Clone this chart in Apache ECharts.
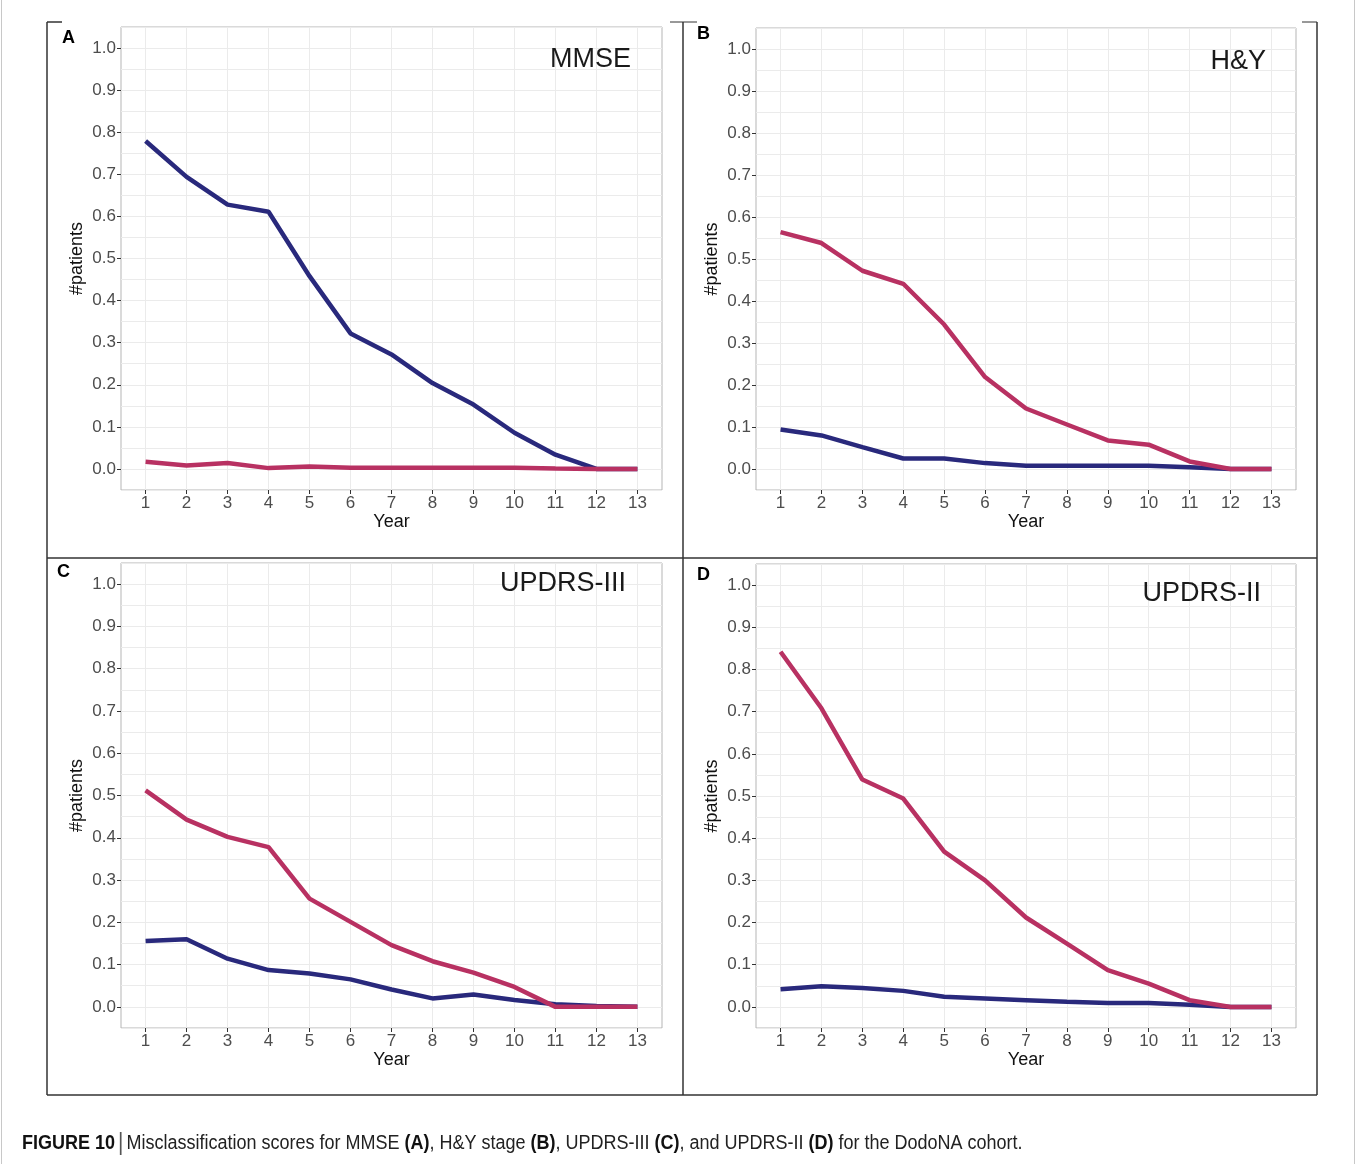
<!DOCTYPE html>
<html>
<head>
<meta charset="utf-8">
<script src="https://cdn.jsdelivr.net/npm/echarts@6/dist/echarts.min.js"></script>
<style>
  html, body { margin: 0; padding: 0; background: #fff; }
  #chart { width: 1357px; height: 1164px; }
</style>
</head>
<body>
<div id="chart"></div>
<script>
// ---- Data ----
const years = [1, 2, 3, 4, 5, 6, 7, 8, 9, 10, 11, 12, 13];
const yTicks = [0, 0.1, 0.2, 0.3, 0.4, 0.5, 0.6, 0.7, 0.8, 0.9, 1.0];

const panelTitles = ['MMSE', 'H&Y', 'UPDRS-III', 'UPDRS-II'];
const panelLetters = ['A', 'B', 'C', 'D'];

const mmseBlue = [0.779, 0.694, 0.628, 0.611, 0.458, 0.322, 0.272, 0.204, 0.153, 0.086, 0.034, 0.0, 0.0];
const mmseRed = [0.017, 0.008, 0.014, 0.002, 0.006, 0.003, 0.003, 0.003, 0.003, 0.003, 0.001, 0.0, 0.0];

const hyBlue = [0.094, 0.080, 0.052, 0.025, 0.025, 0.014, 0.008, 0.008, 0.008, 0.008, 0.004, 0.0, 0.0];
const hyRed = [0.564, 0.538, 0.472, 0.441, 0.344, 0.219, 0.144, 0.106, 0.068, 0.058, 0.018, 0.0, 0.0];

const updrs3Blue = [0.156, 0.160, 0.114, 0.087, 0.079, 0.065, 0.041, 0.020, 0.029, 0.016, 0.006, 0.002, 0.0];
const updrs3Red = [0.512, 0.443, 0.402, 0.378, 0.256, 0.201, 0.146, 0.108, 0.081, 0.047, 0.0, 0.0, 0.0];

const updrs2Blue = [0.042, 0.049, 0.045, 0.038, 0.024, 0.020, 0.016, 0.012, 0.009, 0.009, 0.005, 0.0, 0.0];
const updrs2Red = [0.842, 0.708, 0.539, 0.494, 0.368, 0.300, 0.212, 0.150, 0.087, 0.055, 0.016, 0.0, 0.0];

const blueSeries = [mmseBlue, hyBlue, updrs3Blue, updrs2Blue];
const redSeries = [mmseRed, hyRed, updrs3Red, updrs2Red];

const captionLabel = 'FIGURE 10';

// ---- Layout ----
const BLUE = '#29297c';
const RED = '#b83162';
const grids = [
  { left: 121, top: 27, width: 541, height: 463 },
  { left: 756, top: 28, width: 540, height: 462 },
  { left: 121, top: 563, width: 541, height: 465 },
  { left: 756, top: 564, width: 540, height: 464 }
];
const titlePos = [
  { right: 721, top: 41 },
  { right: 86, top: 43 },
  { right: 726, top: 565 },
  { right: 91, top: 575 }
];
const letterPos = [[62, 29], [697, 25], [57, 563], [697, 566]];

const FONT = '"Liberation Sans", Arial, sans-serif';

const xAxes = [], yAxes = [], series = [], titles = [];
grids.forEach((g, i) => {
  xAxes.push({
    gridIndex: i, type: 'value', position: 'bottom', min: 0.4, max: 13.6,
    axisLine: { show: false, onZero: false },
    axisTick: { show: true, length: 4, customValues: years, lineStyle: { color: '#333', width: 1 } },
    axisLabel: { customValues: years, color: '#4d4d4d', fontSize: 17, margin: 5, fontFamily: FONT },
    splitLine: { show: true, lineStyle: { color: '#ebebeb', width: 1 } },
    name: 'Year', nameLocation: 'middle', nameGap: 21,
    nameTextStyle: { color: '#111', fontSize: 18, fontFamily: FONT }
  });
  // grid lines every 0.05
  yAxes.push({
    gridIndex: i, type: 'value', position: 'left', min: -0.05, max: 1.05, interval: 0.05,
    axisLine: { show: false, onZero: false }, axisTick: { show: false }, axisLabel: { show: false },
    splitLine: { show: true, lineStyle: { color: '#ebebeb', width: 1 } }
  });
  // labelled axis
  yAxes.push({
    gridIndex: i, type: 'value', position: 'left', offset: 0, min: -0.05, max: 1.05, interval: 0.05,
    axisLine: { show: false, onZero: false },
    axisTick: { show: true, length: 4, customValues: yTicks, lineStyle: { color: '#333', width: 1 } },
    axisLabel: { customValues: yTicks, formatter: v => Number(v).toFixed(1), color: '#4d4d4d', fontSize: 17, margin: 5, fontFamily: FONT },
    splitLine: { show: false },
    name: '#patients', nameLocation: 'middle', nameGap: 35, nameRotate: 90,
    nameTextStyle: { color: '#111', fontSize: 18, fontFamily: FONT }
  });
  series.push({
    type: 'line', xAxisIndex: i, yAxisIndex: 2 * i, showSymbol: false, symbol: 'none',
    data: years.map((y, k) => [y, blueSeries[i][k]]),
    lineStyle: { color: BLUE, width: 4.5 }, itemStyle: { color: BLUE }, z: 3
  });
  series.push({
    type: 'line', xAxisIndex: i, yAxisIndex: 2 * i, showSymbol: false, symbol: 'none',
    data: years.map((y, k) => [y, redSeries[i][k]]),
    lineStyle: { color: RED, width: 4.5 }, itemStyle: { color: RED }, z: 4
  });
  titles.push({
    text: panelTitles[i], right: titlePos[i].right, top: titlePos[i].top,
    textStyle: { fontSize: 27, fontWeight: 'normal', color: '#1a1a1a', fontFamily: FONT }
  });
});

const frameColor = '#333';
const lineEl = (x1, y1, x2, y2, color, w) => ({
  type: 'line', shape: { x1, y1, x2, y2 }, style: { stroke: color, lineWidth: w }, silent: true
});

const graphics = [
  // page edges
  lineEl(1.5, 0, 1.5, 1164, '#c8c8c8', 1),
  lineEl(1354.5, 0, 1354.5, 1164, '#c8c8c8', 1),
  // figure frame
  lineEl(47, 22, 47, 1095, frameColor, 1.5),
  lineEl(683, 22, 683, 1095, frameColor, 1.5),
  lineEl(1317, 22, 1317, 1095, frameColor, 1.5),
  lineEl(47, 1095, 1317, 1095, frameColor, 1.5),
  lineEl(47, 558, 1317, 558, frameColor, 1.5),
  lineEl(47, 22, 62, 22, frameColor, 1.5),
  lineEl(670, 22, 697, 22, frameColor, 1),
  lineEl(1302, 22, 1317, 22, frameColor, 1)
];
letterPos.forEach((p, i) => {
  graphics.push({
    type: 'text', left: p[0], top: p[1], silent: true,
    style: { text: panelLetters[i], fontSize: 18, fontWeight: 'bold', fill: '#000', fontFamily: FONT }
  });
});
const CAPFONT = '"Liberation Sans", Arial, sans-serif';
graphics.push({
  type: 'text', x: 22, y: 1132, scaleX: 0.9, silent: true,
  style: {
    text: '{b|' + captionLabel + '} {s||} {n|Misclassification scores for MMSE }{b|(A)}{n|, H&Y stage }{b|(B)}{n|, UPDRS-III }{b|(C)}{n|, and UPDRS-II }{b|(D)}{n| for the DodoNA cohort.}',
    rich: {
      b: { fontSize: 20, fontWeight: 'bold', fill: '#111', fontFamily: CAPFONT },
      n: { fontSize: 20, fill: '#222', fontFamily: CAPFONT },
      s: { fontSize: 23, fill: '#555', fontFamily: CAPFONT }
    }
  }
});

const chart = echarts.init(document.getElementById('chart'), null, { renderer: 'canvas' });
chart.setOption({
  backgroundColor: '#fff',
  animation: false,
  title: titles,
  grid: grids.map(g => Object.assign({ show: true, borderColor: '#b5b5b5', borderWidth: 1, backgroundColor: '#fff', containLabel: false }, g)),
  xAxis: xAxes,
  yAxis: yAxes,
  series: series,
  graphic: graphics
});
</script>
</body>
</html>
